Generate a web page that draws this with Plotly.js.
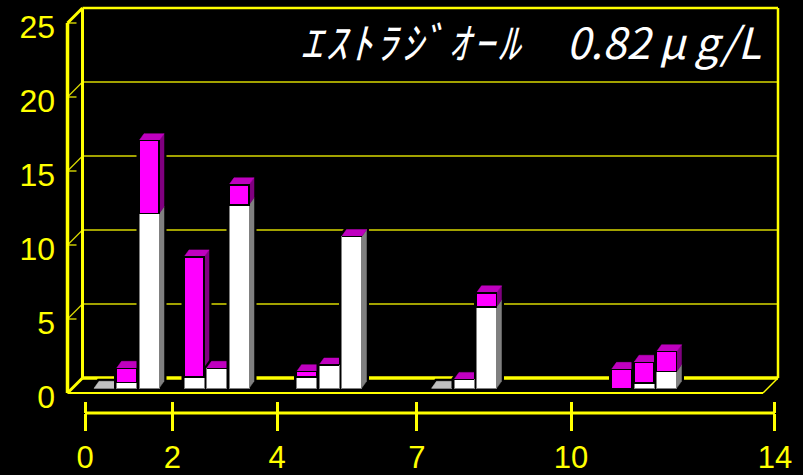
<!DOCTYPE html>
<html>
<head>
<meta charset="utf-8">
<script src="https://cdn.plot.ly/plotly-3.0.1.min.js"></script>
<style>
  html, body { margin: 0; padding: 0; background: #000; }
  #chart { width: 803px; height: 475px; }
</style>
</head>
<body>
<div id="chart"></div>
<script>
// ---- data ----
// lower (white) and upper (magenta) parts of each stacked column, left to right
const lowerValues = [0, 0.38, 11.8,  0.78, 1.35, 12.4,  0.78, 1.57, 10.25,  0, 0.6, 5.5,  0, 0.36, 1.12];
const upperValues = [null, 0.97, 4.93,  8.1, 0, 1.35,  0.34, 0, 0,  null, 0, 0.95,  1.28, 1.4, 1.35];
const dayLabels = ['0', '2', '4', '7', '10', '14'];
const valueTicks = [0, 5, 10, 15, 20, 25];
const titleName = 'ｴｽﾄﾗｼﾞｵｰﾙ';
const titleDose = '0.82\u2009μ\u2009g/L';

// ---- layout constants ----
const W = 803, H = 475;
const SLOT_PX = 22.5, UNIT_PX = 14.8;     // pixels per column slot / per value unit
const ORIGIN_X = 104, BASE_Y = 388.3;     // pixel of slot 0 / of value 0 on the column plane
const columnSlots = [0, 1, 2, 4, 5, 6, 9, 10, 11, 15, 16, 17, 23, 24, 25];
const dayTickSlots = [-0.844, 3.036, 7.69, 13.91, 20.76, 29.82];

const xs = px => (px - ORIGIN_X) / SLOT_PX;
const yv = py => (BASE_Y - py) / UNIT_PX;
const xRange = [xs(0), xs(W)];
const yRange = [yv(H), yv(0)];

// box frame (front plane and back plane 15px up-right)
const fL = xs(67.5), fR = xs(763), f0 = yv(393);
const DX = 15 / SLOT_PX, DY = 15 / UNIT_PX;
const bL = fL + DX, bR = fR + DX, b0 = f0 + DY;
const yTop = valueTicks[valueTicks.length - 1];

const YEL = '#ffff00', GRID = '#d8d800';
const traces = [];
const seg = (x, y, color, width) => traces.push({
  type: 'scatter', mode: 'lines', x, y, xaxis: 'x', yaxis: 'y',
  line: { color, width }, hoverinfo: 'skip', showlegend: false
});
const poly = (pts, color, lineColor, lineWidth) => traces.push({
  type: 'scatter', mode: 'lines', fill: 'toself', fillcolor: color,
  x: pts.map(p => p[0]).concat([pts[0][0]]),
  y: pts.map(p => p[1]).concat([pts[0][1]]),
  xaxis: 'x', yaxis: 'y',
  line: { color: lineColor || color, width: lineWidth === undefined ? 0.5 : lineWidth },
  hoverinfo: 'skip', showlegend: false
});

// back grid lines, wall ticks and connectors
valueTicks.forEach(v => {
  if (v > 0 && v < yTop) {
    seg([bL, bR], [b0 + v, b0 + v], GRID, 1.4);
    seg([fL, bL], [f0 + v, b0 + v], GRID, 1.2);
  }
  if (v > 0) seg([fL, fL + 9 / SLOT_PX], [f0 + v, f0 + v], GRID, 1.4);
});
// back frame
seg([bL, bR], [b0 + yTop, b0 + yTop], YEL, 2.5);
seg([bL, bL], [b0, b0 + yTop], YEL, 3);
seg([bR, bR], [b0, b0 + yTop], YEL, 2.5);
seg([bL, bR], [b0, b0], YEL, 3.5);
// front frame
seg([fL, fL], [f0, f0 + yTop], YEL, 3.5);
seg([fL, bL], [f0 + yTop, b0 + yTop], YEL, 3);
seg([fL, bL], [f0, b0], YEL, 3);
seg([fR, bR], [f0, b0], YEL, 1.5);
seg([fL, fR], [f0, f0], YEL, 2);

// day axis line
const dayLineY = yv(413);
seg([dayTickSlots[0], dayTickSlots[dayTickSlots.length - 1]], [dayLineY, dayLineY], YEL, 3);

// column depth faces (side and top) with a black halo behind each column
const HW = 10 / SLOT_PX;          // half column width
const CDX = 5 / SLOT_PX, CDY = 7 / UNIT_PX;
columnSlots.forEach((s, i) => {
  const lo = lowerValues[i];
  const up = upperValues[i];
  const total = lo + (up === null ? 0 : up);
  const L = s - HW, R = s + HW;
  poly([[L, 0], [R, 0], [R + CDX, CDY], [R + CDX, total + CDY], [L + CDX, total + CDY], [L, total]],
       '#000000', '#000000', 5);
  poly([[R, 0], [R + CDX, CDY], [R + CDX, lo + CDY], [R, lo]], '#808080');
  if (up !== null) {
    poly([[R, lo], [R + CDX, lo + CDY], [R + CDX, total + CDY], [R, total]], '#800080');
  }
  poly([[L, total], [R, total], [R + CDX, total + CDY], [L + CDX, total + CDY]],
       up !== null ? '#c000c0' : '#c0c0c0');
});

// front faces of the stacked columns (overlay subplot, drawn above the frame)
traces.push({
  type: 'bar', x: columnSlots, y: lowerValues, width: 2 * HW,
  xaxis: 'x4', yaxis: 'y3',
  marker: { color: '#ffffff', line: { color: '#808080', width: 1 } },
  hoverinfo: 'skip', showlegend: false
});
traces.push({
  type: 'bar', x: columnSlots, y: upperValues, width: 2 * HW,
  xaxis: 'x4', yaxis: 'y3',
  marker: { color: '#ff00ff', line: { color: '#000000', width: 1.5 } },
  hoverinfo: 'skip', showlegend: false
});

// placeholders so the labelled axes get drawn
traces.push({ type: 'scatter', x: [null], y: [null], xaxis: 'x2', yaxis: 'y', hoverinfo: 'skip', showlegend: false });
traces.push({ type: 'scatter', x: [null], y: [null], xaxis: 'x3', yaxis: 'y', hoverinfo: 'skip', showlegend: false });
traces.push({ type: 'scatter', x: [null], y: [null], xaxis: 'x', yaxis: 'y2', hoverinfo: 'skip', showlegend: false });

const LABEL_ZERO_PX = 396.5;
const shift = (LABEL_ZERO_PX - BASE_Y) / UNIT_PX;
const tickFont = { family: 'Liberation Sans, Arial, sans-serif', size: 32, color: YEL };
const hidden = { visible: false, fixedrange: true, showgrid: false, zeroline: false };

const layout = {
  width: W, height: H,
  margin: { l: 0, r: 0, t: 0, b: 0, pad: 0 },
  paper_bgcolor: '#000000', plot_bgcolor: '#000000',
  showlegend: false, barmode: 'stack',
  title: {
    text: '<span style="letter-spacing:3.7px">' + titleName + '</span>\u3000' + titleDose,
    x: 761 / W, xanchor: 'right', xref: 'paper',
    y: 1 - 44 / H, yanchor: 'middle', yref: 'container',
    font: { family: 'Noto Sans CJK JP, sans-serif', size: 43, color: '#ffffff', style: 'italic' }
  },
  xaxis: Object.assign({ range: xRange }, hidden),
  yaxis: Object.assign({ range: yRange }, hidden),
  xaxis4: Object.assign({ range: xRange, overlaying: 'x' }, hidden),
  yaxis3: Object.assign({ range: yRange, overlaying: 'y' }, hidden),
  xaxis2: {
    range: xRange, overlaying: 'x', anchor: 'free', position: (H - 413) / H, side: 'bottom',
    tickmode: 'array', tickvals: dayTickSlots, ticktext: dayLabels,
    ticks: 'outside', ticklen: 17, tickwidth: 3, tickcolor: YEL,
    showline: false, showgrid: false, zeroline: false, fixedrange: true,
    tickfont: Object.assign({}, tickFont, { size: 31 }), ticklabelstandoff: 0
  },
  xaxis3: {
    range: xRange, overlaying: 'x', anchor: 'free', position: (H - 413) / H, side: 'bottom',
    tickmode: 'array', tickvals: dayTickSlots, showticklabels: false,
    ticks: 'inside', ticklen: 11, tickwidth: 3, tickcolor: YEL,
    showline: false, showgrid: false, zeroline: false, fixedrange: true
  },
  yaxis2: {
    range: [yRange[0] + shift, yRange[1] + shift], overlaying: 'y', anchor: 'free',
    position: 55 / W, side: 'left',
    tickmode: 'array', tickvals: valueTicks, ticks: '',
    showline: false, showgrid: false, zeroline: false, fixedrange: true,
    tickfont: tickFont
  }
};

Plotly.newPlot('chart', traces, layout, { staticPlot: true, displayModeBar: false });
</script>
</body>
</html>
